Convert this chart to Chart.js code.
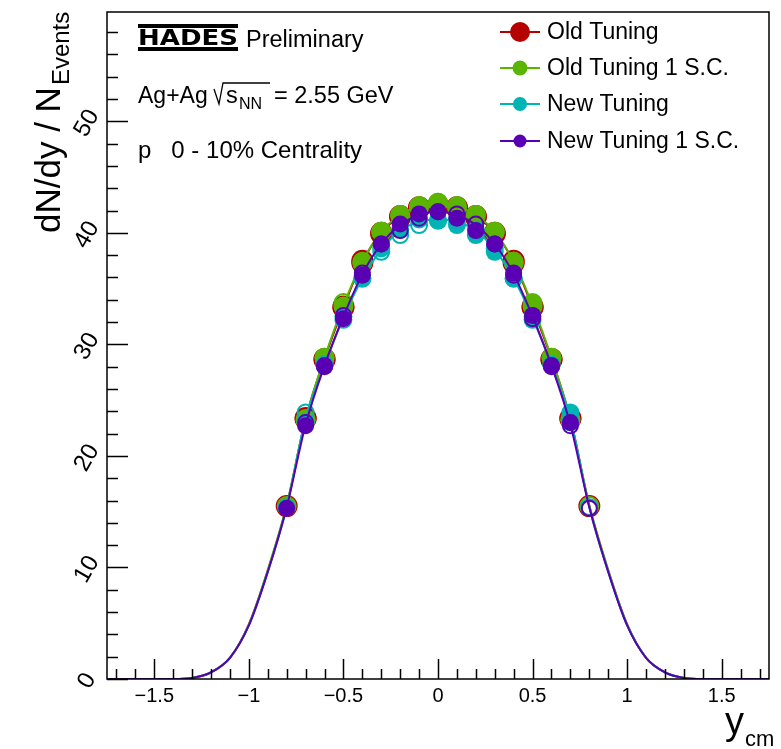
<!DOCTYPE html>
<html><head><meta charset="utf-8">
<script src="https://cdn.jsdelivr.net/npm/chart.js@4.4.1/dist/chart.umd.min.js"></script>
<style>html,body{margin:0;padding:0;background:#fff;} canvas{display:block;}</style>
</head><body>
<canvas id="c" width="781" height="749"></canvas>
<script>
// ---------------- DATA ----------------
const seriesNames = ['Old Tuning', 'Old Tuning 1 S.C.', 'New Tuning', 'New Tuning 1 S.C.'];
const seriesColors = ['#b40000', '#5ab400', '#00b4b4', '#5a00b4'];

// measured rapidity bins (filled markers); open markers are their reflections
const pointX = [-0.8, -0.7, -0.6, -0.5, -0.4, -0.3, -0.2, -0.1, 0.0, 0.1, 0.2, 0.3, 0.4, 0.5, 0.6, 0.7];
const oldTuning      = [15.5, 23.4, 28.7, 33.3, 37.5, 39.9, 41.5, 42.2, 42.4, 42.3, 41.4, 40.0, 37.3, 33.4, 28.6, 23.3];
const oldTuning1SC   = [15.5, 23.3, 28.8, 33.4, 37.3, 40.1, 41.6, 42.3, 42.7, 42.4, 41.6, 40.1, 37.4, 33.7, 28.8, 23.2];
const newTuning      = [15.4, 23.0, 28.1, 32.5, 35.9, 38.6, 40.3, 41.2, 41.1, 40.7, 39.8, 38.3, 35.9, 32.2, 28.2, 23.9];
const newTuning1SC   = [15.3, 22.7, 28.0, 32.3, 36.2, 39.0, 40.8, 41.7, 41.9, 41.3, 40.2, 39.0, 36.4, 32.6, 28.1, 23.0];

// fitted curves
const curveX = [-1.75, -1.4, -1.3, -1.2, -1.1, -1.0, -0.9, -0.8, -0.7, -0.6, -0.5, -0.4, -0.3, -0.2, -0.1, 0.0,
                 0.1, 0.2, 0.3, 0.4, 0.5, 0.6, 0.7, 0.8, 0.9, 1.0, 1.1, 1.2, 1.3, 1.4, 1.75];
const curveOld    = [0, 0, 0.1, 0.6, 1.9, 4.9, 9.7, 15.5, 23.3, 28.7, 33.3, 37.4, 40.0, 41.5, 42.2, 42.4,
                     42.2, 41.5, 40.0, 37.4, 33.3, 28.7, 23.3, 15.5, 9.7, 4.9, 1.9, 0.6, 0.1, 0, 0];
const curveOld1SC = [0, 0, 0.1, 0.6, 1.9, 4.9, 9.8, 15.6, 23.3, 28.8, 33.5, 37.4, 40.1, 41.6, 42.4, 42.7,
                     42.4, 41.6, 40.1, 37.4, 33.5, 28.8, 23.3, 15.6, 9.8, 4.9, 1.9, 0.6, 0.1, 0, 0];
const curveNew    = [0, 0, 0.1, 0.6, 1.9, 4.8, 9.6, 15.4, 23.3, 28.1, 32.4, 35.9, 38.5, 40.2, 41.0, 41.2,
                     41.0, 40.2, 38.5, 35.9, 32.4, 28.1, 23.3, 15.4, 9.6, 4.8, 1.9, 0.6, 0.1, 0, 0];
const curveNew1SC = [0, 0, 0.1, 0.6, 1.9, 4.8, 9.6, 15.4, 22.8, 28.1, 32.5, 36.3, 39.0, 40.7, 41.6, 41.9,
                     41.6, 40.7, 39.0, 36.3, 32.5, 28.1, 22.8, 15.4, 9.6, 4.8, 1.9, 0.6, 0.1, 0, 0];

const xMajorTicks = [-1.5, -1, -0.5, 0, 0.5, 1, 1.5];
const xTickLabels = ['\u22121.5', '\u22121', '\u22120.5', '0', '0.5', '1', '1.5'];
const yMajorTicks = [0, 10, 20, 30, 40, 50];
const yTickLabels = ['0', '10', '20', '30', '40', '50'];

// ---------------- STYLE ----------------
const FONT = "'Liberation Sans', Arial, Helvetica, sans-serif";
const markerR = [11, 10, 9, 8.5];
const legendR = [10, 7.5, 7, 6.5];
const pointSets = [oldTuning, oldTuning1SC, newTuning, newTuning1SC];
const curveSets = [curveOld, curveOld1SC, curveNew, curveNew1SC];

const datasets = [];
for (let s = 0; s < 4; s++) {
  const c = seriesColors[s];
  const base = (3 - s) * 3;
  datasets.push({
    label: seriesNames[s] + ' fit',
    data: curveX.map((x, i) => ({ x: x, y: curveSets[s][i] })),
    borderColor: c, borderWidth: 2, pointRadius: 0, fill: false,
    cubicInterpolationMode: 'monotone', order: base + 2
  });
  datasets.push({
    label: seriesNames[s],
    data: pointX.map((x, i) => ({ x: x, y: pointSets[s][i] })),
    showLine: false, pointRadius: markerR[s], pointStyle: 'circle',
    backgroundColor: c, borderColor: c, borderWidth: 0, order: base + 1
  });
  datasets.push({
    label: seriesNames[s] + ' reflected',
    data: pointX.map((x, i) => ({ x: -x, y: pointSets[s][i] })),
    showLine: false, pointRadius: markerR[s] - 1, pointStyle: 'circle',
    backgroundColor: 'rgba(0,0,0,0)', borderColor: c, borderWidth: 2, order: base
  });
}

const decor = {
  id: 'decor',
  afterDraw(chart) {
    const ctx = chart.ctx;
    const a = chart.chartArea;
    const xs = chart.scales.x, ys = chart.scales.y;
    ctx.save();
    ctx.strokeStyle = '#000';
    ctx.fillStyle = '#000';
    ctx.lineWidth = 1.5;
    // frame
    ctx.strokeRect(a.left, a.top, a.right - a.left, a.bottom - a.top);
    // x ticks
    ctx.beginPath();
    for (let k = -17; k <= 17; k++) {
      const v = k / 10;
      const px = Math.round(xs.getPixelForValue(v)) + 0.5;
      const len = (k % 5 === 0) ? 20 : 10;
      ctx.moveTo(px, a.bottom);
      ctx.lineTo(px, a.bottom - len);
    }
    // y ticks
    for (let v = 0; v <= 58; v += 2) {
      const py = Math.round(ys.getPixelForValue(v)) + 0.5;
      const len = (v % 10 === 0) ? 21 : 11;
      ctx.moveTo(a.left, py);
      ctx.lineTo(a.left + len, py);
    }
    ctx.stroke();
    // x tick labels
    ctx.font = '20px ' + FONT;
    ctx.textAlign = 'center';
    ctx.textBaseline = 'alphabetic';
    xMajorTicks.forEach((v, i) => {
      ctx.fillText(xTickLabels[i], xs.getPixelForValue(v), 702);
    });
    // y tick labels (rotated)
    ctx.font = '24px ' + FONT;
    yMajorTicks.forEach((v, i) => {
      ctx.save();
      ctx.translate(87, ys.getPixelForValue(v) + 2);
      ctx.rotate(-Math.PI / 3);
      ctx.textAlign = 'center';
      ctx.textBaseline = 'middle';
      ctx.fillText(yTickLabels[i], 0, 0);
      ctx.restore();
    });
    // x title
    ctx.textAlign = 'left';
    ctx.font = '38px ' + FONT;
    ctx.fillText('y', 725, 734);
    ctx.font = '22px ' + FONT;
    ctx.fillText('cm', 745, 746);
    // y title
    ctx.save();
    ctx.translate(60, 233);
    ctx.rotate(-Math.PI / 2);
    ctx.font = '35px ' + FONT;
    const t1 = 'dN/dy / N';
    ctx.fillText(t1, 0, 0);
    const w1 = ctx.measureText(t1).width;
    ctx.font = '24px ' + FONT;
    ctx.fillText('Events', w1 + 2, 9);
    ctx.restore();

    // HADES logo
    ctx.fillRect(138, 24, 100, 4);
    ctx.fillRect(138, 47, 100, 4);
    ctx.save();
    ctx.font = 'bold 22px "DejaVu Sans", sans-serif';
    const hw = ctx.measureText('HADES').width;
    ctx.translate(138, 45);
    ctx.scale(100 / hw, 1);
    ctx.fillText('HADES', 0, 0);
    ctx.restore();
    ctx.font = '23.5px ' + FONT;
    ctx.fillText('Preliminary', 246, 47);

    // Ag+Ag line
    ctx.font = '23px ' + FONT;
    ctx.fillText('Ag+Ag', 138, 103);
    ctx.lineWidth = 1.3;
    ctx.beginPath();
    ctx.moveTo(214, 89);
    ctx.lineTo(219, 104);
    ctx.lineTo(223, 83);
    ctx.lineTo(270, 83);
    ctx.stroke();
    ctx.font = '23.5px ' + FONT;
    ctx.fillText('s', 226, 103);
    ctx.font = '16px ' + FONT;
    ctx.fillText('NN', 239, 109);
    ctx.font = '23.5px ' + FONT;
    ctx.fillText('= 2.55 GeV', 274, 103);

    ctx.font = '24px ' + FONT;
    ctx.fillText('p   0 - 10% Centrality', 138, 158);

    // legend
    const rowsY = [32, 68, 104, 141];
    for (let s = 0; s < 4; s++) {
      const y = rowsY[s];
      ctx.strokeStyle = seriesColors[s];
      ctx.fillStyle = seriesColors[s];
      ctx.lineWidth = 2;
      ctx.beginPath();
      ctx.moveTo(500, y); ctx.lineTo(540, y);
      ctx.stroke();
      ctx.beginPath();
      ctx.arc(520, y, legendR[s], 0, Math.PI * 2);
      ctx.fill();
      ctx.fillStyle = '#000';
      ctx.font = '23px ' + FONT;
      ctx.textBaseline = 'middle';
      ctx.fillText(seriesNames[s], 547, y + 1);
      ctx.textBaseline = 'alphabetic';
    }
    ctx.restore();
  }
};

new Chart(document.getElementById('c'), {
  type: 'line',
  data: { datasets: datasets },
  options: {
    responsive: false,
    animation: false,
    devicePixelRatio: 1,
    layout: { padding: { left: 107, right: 8, top: 5, bottom: 70 } },
    scales: {
      x: { type: 'linear', min: -1.75, max: 1.75, display: false },
      y: { type: 'linear', min: 0, max: 59.8, display: false }
    },
    plugins: { legend: { display: false }, tooltip: { enabled: false } },
    elements: { line: { tension: 0 } }
  },
  plugins: [decor]
});
</script>
</body></html>
